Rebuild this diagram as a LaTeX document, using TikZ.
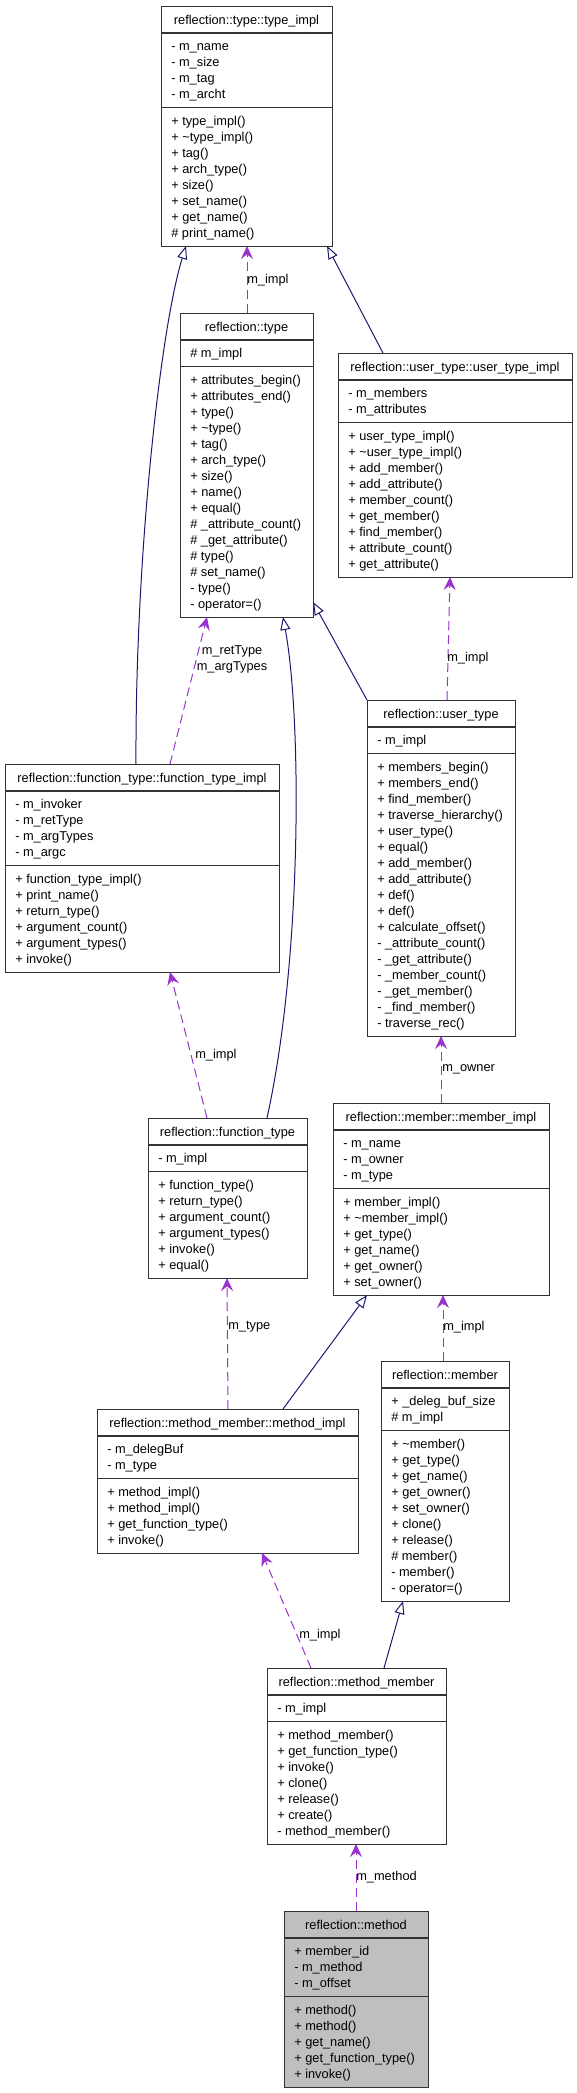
\documentclass[tikz,border=0pt]{standalone}
\usepackage{fontspec}
\setmainfont{Liberation Sans}
\usetikzlibrary{arrows.meta,calc}
\definecolor{inhcol}{HTML}{191970}
\definecolor{usecol}{HTML}{9A32CD}
\definecolor{hilite}{HTML}{BFBFBF}
\definecolor{bordcol}{HTML}{333333}
\newcommand{\clsfill}{white}
\newcommand{\umlclass}[9]{%
  \pgfmathsetmacro\hB{#6*16+10.5}%
  \pgfmathsetmacro\hC{#8*16+10.5}%
  \pgfmathsetmacro\hH{27+\hB+\hC}%
  \pgfmathsetmacro\sB{27+\hB}%
  \node[classbox, fill=\clsfill, minimum width=#4*0.75pt, minimum height=\hH*0.75pt, anchor=north west] (#1) at (#2,#3) {};
  \draw[sepline] (#2,#3+27) -- (#2+#4,#3+27);
  \draw[sepline] (#2,#3+\sB) -- (#2+#4,#3+\sB);
  \draw[boxline] (#1.north west) rectangle (#1.south east);
  \node[titletext] (#1-title) at (#2+#4/2,#3+18.5) {#5};
  \node[membertext] (#1-attrs) at (#2+10,#3+27+4.2) {\rule{0pt}{10pt}#7};
  \node[membertext] (#1-meths) at (#2+10,#3+\sB+4.2) {\rule{0pt}{10pt}#9};
}
\tikzset{
  x=0.75pt, y=-0.75pt,
  classbox/.style={draw=none, inner sep=0pt, outer sep=0pt},
  boxline/.style={draw=bordcol, line width=0.7pt},
  sepline/.style={draw=bordcol, line width=0.8pt},
  titletext/.style={anchor=base, inner sep=0pt, font=\fontsize{9.6}{12}\selectfont},
  membertext/.style={anchor=north west, inner sep=0pt, align=left, font=\fontsize{9.6}{12}\selectfont},
  lbl/.style={anchor=west, inner sep=0pt, font=\fontsize{9.6}{12}\selectfont},
  inherit/.style={draw=inhcol, line width=0.75pt, -{Triangle[length=9.75pt,width=7.5pt,fill=white]}},
  uses/.style={draw=usecol, line width=0.75pt, dash pattern=on 6.75pt off 3.75pt, -{Stealth[length=9.75pt,width=9pt,inset=3.5pt]}},
}
\begin{document}
\begin{tikzpicture}
\useasboundingbox (0,0) rectangle (577,2093);

\umlclass{typeimpl}{161}{6}{171}{reflection::type::type\_impl}{4}%
{- m\_name\\- m\_size\\- m\_tag\\- m\_archt}{8}%
{+ type\_impl()\\+ \textasciitilde type\_impl()\\+ tag()\\+ arch\_type()\\+ size()\\+ set\_name()\\+ get\_name()\\\# print\_name()}

\umlclass{type}{180}{313}{133}{reflection::type}{1}%
{\# m\_impl}{15}%
{+ attributes\_begin()\\+ attributes\_end()\\+ type()\\+ \textasciitilde type()\\+ tag()\\+ arch\_type()\\+ size()\\+ name()\\+ equal()\\\# \_attribute\_count()\\\# \_get\_attribute()\\\# type()\\\# set\_name()\\- type()\\- operator=()}

\umlclass{usertypeimpl}{338}{353}{234}{reflection::user\_type::user\_type\_impl}{2}%
{- m\_members\\- m\_attributes}{9}%
{+ user\_type\_impl()\\+ \textasciitilde user\_type\_impl()\\+ add\_member()\\+ add\_attribute()\\+ member\_count()\\+ get\_member()\\+ find\_member()\\+ attribute\_count()\\+ get\_attribute()}

\umlclass{ftimpl}{5}{764}{274}{reflection::function\_type::function\_type\_impl}{4}%
{- m\_invoker\\- m\_retType\\- m\_argTypes\\- m\_argc}{6}%
{+ function\_type\_impl()\\+ print\_name()\\+ return\_type()\\+ argument\_count()\\+ argument\_types()\\+ invoke()}

\umlclass{usertype}{367}{700}{148}{reflection::user\_type}{1}%
{- m\_impl}{17}%
{+ members\_begin()\\+ members\_end()\\+ find\_member()\\+ traverse\_hierarchy()\\+ user\_type()\\+ equal()\\+ add\_member()\\+ add\_attribute()\\+ def()\\+ def()\\+ calculate\_offset()\\- \_attribute\_count()\\- \_get\_attribute()\\- \_member\_count()\\- \_get\_member()\\- \_find\_member()\\- traverse\_rec()}

\umlclass{functype}{148}{1118}{159}{reflection::function\_type}{1}%
{- m\_impl}{6}%
{+ function\_type()\\+ return\_type()\\+ argument\_count()\\+ argument\_types()\\+ invoke()\\+ equal()}

\umlclass{memberimpl}{333}{1103}{216}{reflection::member::member\_impl}{3}%
{- m\_name\\- m\_owner\\- m\_type}{6}%
{+ member\_impl()\\+ \textasciitilde member\_impl()\\+ get\_type()\\+ get\_name()\\+ get\_owner()\\+ set\_owner()}

\umlclass{methodimpl}{97}{1409}{261}{reflection::method\_member::method\_impl}{2}%
{- m\_delegBuf\\- m\_type}{4}%
{+ method\_impl()\\+ method\_impl()\\+ get\_function\_type()\\+ invoke()}

\umlclass{member}{381}{1361}{128}{reflection::member}{2}%
{+ \_deleg\_buf\_size\\\# m\_impl}{10}%
{+ \textasciitilde member()\\+ get\_type()\\+ get\_name()\\+ get\_owner()\\+ set\_owner()\\+ clone()\\+ release()\\\# member()\\- member()\\- operator=()}

\umlclass{methodmember}{267}{1668}{179}{reflection::method\_member}{1}%
{- m\_impl}{7}%
{+ method\_member()\\+ get\_function\_type()\\+ invoke()\\+ clone()\\+ release()\\+ create()\\- method\_member()}

\renewcommand{\clsfill}{hilite}
\umlclass{method}{284}{1911}{144}{reflection::method}{3}%
{+ member\_id\\- m\_method\\- m\_offset}{5}%
{+ method()\\+ method()\\+ get\_name()\\+ get\_function\_type()\\+ invoke()}

% inheritance
\draw[inherit] ($(ftimpl.north west)+(131,0)$) .. controls (135,560) and (160,330) .. ($(typeimpl.south west)+(25,0)$);
\draw[inherit] ($(usertypeimpl.north west)+(45,0)$) -- ($(typeimpl.south west)+(166,0)$);
\draw[inherit] ($(functype.north west)+(119,0)$) .. controls (302,960) and (302,720) .. ($(type.south west)+(103,0)$);
\draw[inherit] (usertype.north west) -- ($(type.south east)+(0,-15)$);
\draw[inherit] ($(methodimpl.north west)+(186,0)$) -- ($(memberimpl.south west)+(34,0)$);
\draw[inherit] ($(methodmember.north west)+(117,0)$) -- ($(member.south west)+(22,0)$);

% usage
\draw[uses] ($(type.north west)+(67,0)$) -- ($(typeimpl.south west)+(86,0)$);
\draw[uses] ($(ftimpl.north west)+(165,0)$) -- ($(type.south west)+(27,0)$);
\draw[uses] ($(usertype.north west)+(80,0)$) -- ($(usertypeimpl.south west)+(112,0)$);
\draw[uses] ($(functype.north west)+(59,0)$) -- ($(ftimpl.south west)+(165,0)$);
\draw[uses] ($(memberimpl.north west)+(108,0)$) -- ($(usertype.south west)+(74,0)$);
\draw[uses] ($(member.north west)+(62,0)$) -- ($(memberimpl.south west)+(110,0)$);
\draw[uses] ($(methodimpl.north west)+(131,0)$) -- ($(functype.south west)+(79,0)$);
\draw[uses] ($(methodmember.north west)+(44,0)$) -- ($(methodimpl.south west)+(165,0)$);
\draw[uses] ($(method.north west)+(72,0)$) -- ($(methodmember.south west)+(89,0)$);

% labels
\node[lbl] (l1) at (247,280) {m\_impl};
\node[anchor=center, inner sep=0pt, align=center, font=\fontsize{9.6}{12}\selectfont] (l2) at (232,659) {m\_retType\\m\_argTypes};
\node[lbl] (l3) at (447,658) {m\_impl};
\node[lbl] (l4) at (195,1055) {m\_impl};
\node[lbl] (l5) at (442,1069) {m\_owner};
\node[lbl] (l6) at (228,1327) {m\_type};
\node[lbl] (l7) at (443,1327) {m\_impl};
\node[lbl] (l8) at (299,1635) {m\_impl};
\node[lbl] (l9) at (356,1877) {m\_method};
\end{tikzpicture}
\end{document}
